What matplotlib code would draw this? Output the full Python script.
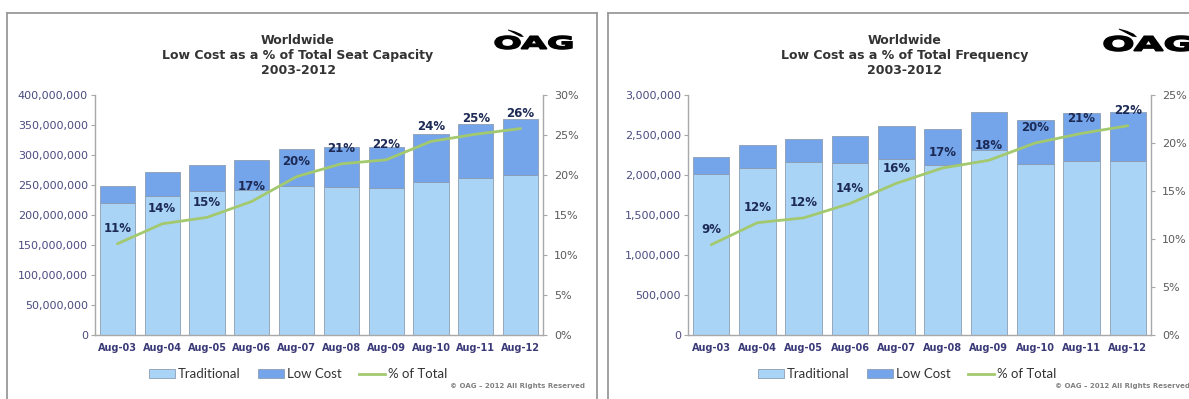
import numpy as np
import matplotlib
matplotlib.use("Agg")
import matplotlib.pyplot as plt
from matplotlib.ticker import FuncFormatter, MultipleLocator
from matplotlib.textpath import TextPath
from matplotlib.font_manager import FontProperties
from matplotlib.patches import PathPatch, Polygon, Patch
from matplotlib.transforms import Affine2D
from matplotlib.lines import Line2D

months = ["Aug-03", "Aug-04", "Aug-05", "Aug-06", "Aug-07",
          "Aug-08", "Aug-09", "Aug-10", "Aug-11", "Aug-12"]

# seat capacity
seat_trad = [220000000, 232000000, 240000000, 242000000, 248000000,
             246000000, 245000000, 255000000, 262000000, 267000000]
seat_low = [29000000, 39000000, 43000000, 49000000, 62000000,
            68000000, 68000000, 80000000, 89000000, 93000000]
seat_pct = [11.4, 13.9, 14.7, 16.7, 19.8, 21.4, 21.9, 24.2, 25.1, 25.8]

# frequency
freq_trad = [2012000, 2083000, 2162000, 2146000, 2196000,
             2125000, 2312000, 2138000, 2179000, 2179000]
freq_low = [217000, 292000, 288000, 342000, 416000,
            450000, 472000, 550000, 592000, 605000]
freq_pct = [9.4, 11.7, 12.2, 13.7, 15.8, 17.4, 18.2, 20.0, 21.0, 21.8]

C_TRAD = "#aad4f6"
C_LOW = "#74a4ea"
C_EDGE = "#8d9db4"
C_LINE = "#a3c96f"
C_AXIS = "#a8a8a8"
C_BORDER = "#9a9a9a"

W, H = 1189, 399
fig = plt.figure(figsize=(W / 100, H / 100), dpi=100)
fig.patch.set_facecolor("white")


def fx(x):
    return x / W


def fy(y):
    return 1 - y / H


def panel(x0, x1, trad, low, pct, ymax, ystep, pmax, title, tx):
    ax = fig.add_axes([fx(x0), fy(335), fx(x1 - x0), 240 / H])
    x = np.arange(len(months))
    ax.bar(x, trad, 0.79, color=C_TRAD, edgecolor=C_EDGE, linewidth=0.6)
    ax.bar(x, low, 0.79, bottom=trad, color=C_LOW, edgecolor=C_EDGE, linewidth=0.6)
    ax.set_xlim(-0.5, len(months) - 0.5)
    ax.set_ylim(0, ymax)
    ax.yaxis.set_major_locator(MultipleLocator(ystep))
    ax.yaxis.set_major_formatter(FuncFormatter(lambda v, p: f"{v:,.0f}"))
    ax.set_xticks(x, months)
    ax.tick_params(axis="x", length=0, pad=6, labelsize=7, labelcolor="#3a3a78")
    for t in ax.get_xticklabels():
        t.set_fontweight("bold")
    ax.tick_params(axis="y", length=3, width=0.8, color=C_AXIS, pad=2,
                   labelsize=8, labelcolor="#4b4b80")
    for s in ["top", "right"]:
        ax.spines[s].set_visible(False)
    for s in ["left", "bottom"]:
        ax.spines[s].set_color(C_AXIS)
        ax.spines[s].set_linewidth(1.0)

    ax2 = ax.twinx()
    ax2.plot(x, pct, color=C_LINE, lw=2.0, solid_capstyle="round")
    ax2.set_ylim(0, pmax)
    ax2.yaxis.set_major_locator(MultipleLocator(5))
    ax2.yaxis.set_major_formatter(FuncFormatter(lambda v, p: f"{v:.0f}%"))
    ax2.tick_params(axis="y", length=3, width=0.8, color=C_AXIS, pad=5,
                    labelsize=8, labelcolor="#5a5a5a")
    for s in ["top", "left", "bottom"]:
        ax2.spines[s].set_visible(False)
    ax2.spines["right"].set_color(C_AXIS)
    ax2.spines["right"].set_linewidth(1.0)
    for i, p in enumerate(pct):
        ax2.annotate(f"{p:.0f}%", (i, p), xytext=(0, 11), textcoords="offset points",
                     ha="center", va="center", fontsize=8.5, fontweight="bold",
                     color="#1c2a55")

    fig.text(fx(tx), fy(55.5), title, ha="center", va="center", fontsize=9,
             fontweight="bold", color="#333333", linespacing=1.15)

    handles = [Patch(facecolor=C_TRAD, edgecolor=C_EDGE, linewidth=0.6),
               Patch(facecolor=C_LOW, edgecolor=C_EDGE, linewidth=0.6),
               Line2D([], [], color=C_LINE, lw=2)]
    return ax, ax2, handles


def logo(x0, ytop, width, height):
    tp = TextPath((0, 0), "OAG", size=10,
                  prop=FontProperties(family="DejaVu Sans", weight="bold"))
    bb = tp.get_extents()
    tr = (Affine2D().translate(-bb.x0, -bb.y0)
          .scale(width / bb.width / W, height / bb.height / H)
          .translate(fx(x0), fy(ytop + height)))
    fig.add_artist(PathPatch(tr.transform_path(tp), facecolor="black",
                             edgecolor="black", linewidth=1.1,
                             transform=fig.transFigure))
    s = width / 77.0
    blade = [(13, -6.5), (20, -4.6), (26, -2.0), (29, 1.0), (25, 0.6),
             (19, -2.6), (13, -5.7)]
    pts = [(fx(x0 + dx * s), fy(ytop + dy * s)) for dx, dy in blade]
    fig.add_artist(Polygon(pts, closed=True, facecolor="black", edgecolor="none",
                           transform=fig.transFigure))


def border(x0, x1):
    kw = dict(color=C_BORDER, lw=1.3, transform=fig.transFigure)
    fig.add_artist(Line2D([fx(x0), fx(x0)], [fy(13), 0], **kw))
    fig.add_artist(Line2D([fx(x0), fx(x1)], [fy(13), fy(13)], **kw))
    if x1 < W:
        fig.add_artist(Line2D([fx(x1), fx(x1)], [fy(13), 0], **kw))


border(7, 597)
border(608, W + 5)

ax_a, ax_a2, h = panel(95, 543, seat_trad, seat_low, seat_pct, 400000000, 50000000, 30,
                       "Worldwide\nLow Cost as a % of Total Seat Capacity\n2003-2012", 298)
ax_b, ax_b2, _ = panel(688, 1151, freq_trad, freq_low, freq_pct, 3000000, 500000, 25,
                       "Worldwide\nLow Cost as a % of Total Frequency\n2003-2012", 905)

labels = ["Traditional", "Low Cost", "% of Total"]
leg_font = FontProperties(family="Lato", size=9.5)
for cx in [298, 907]:
    leg = fig.legend(h, labels, ncol=3, loc="center", bbox_to_anchor=(fx(cx), fy(374)),
                     frameon=False, prop=leg_font, handlelength=2.0, handleheight=0.6,
                     handletextpad=0.2, columnspacing=1.3)
    for t in leg.get_texts():
        t.set_color("#333333")

fig.text(fx(585), fy(386), "\u00a9 OAG \u2013 2012 All Rights Reserved", ha="right",
         va="center", fontsize=5, color="#808080", fontweight="bold")
fig.text(fx(1190), fy(386), "\u00a9 OAG \u2013 2012 All Rights Reserved", ha="right",
         va="center", fontsize=5, color="#808080", fontweight="bold")

logo(495, 36, 77, 13)
logo(1104, 36, 88, 15)

fig.savefig("out.png", dpi=100, facecolor="white")
